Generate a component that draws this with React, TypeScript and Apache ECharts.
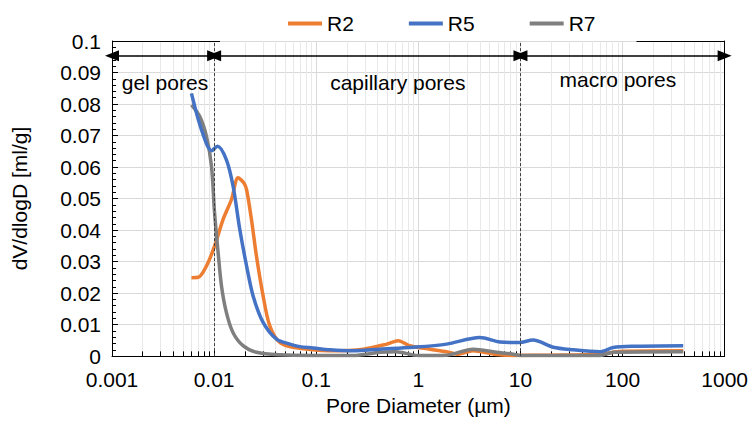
import React, { useEffect, useRef } from "react";
import * as echarts from "echarts";

const xTickLabels = ["0.001", "0.01", "0.1", "1", "10", "100", "1000"];
const yTickLabels = ["0", "0.01", "0.02", "0.03", "0.04", "0.05", "0.06", "0.07", "0.08", "0.09", "0.1"];

const r2X = [0.006, 0.007, 0.00842, 0.0101, 0.01225, 0.0148, 0.01718, 0.0195, 0.0208, 0.0232, 0.026, 0.0302, 0.0351, 0.044, 0.0593, 0.136, 0.29, 0.49, 0.635, 0.82, 1.3, 1.89, 2.4, 3.44, 5.5, 8.5, 20, 60, 100, 393];
const r2Y = [0.0249, 0.025, 0.0286, 0.0349, 0.0434, 0.0497, 0.0566, 0.055, 0.0528, 0.0434, 0.0317, 0.0191, 0.0096, 0.0043, 0.0028, 0.0017, 0.0022, 0.0038, 0.0049, 0.0033, 0.0022, 0.0014, 0.0006, 0.0017, 0.0006, 0.0002, 0.0003, 0.0006, 0.0015, 0.0017];

const r5X = [0.006, 0.00753, 0.00943, 0.0108, 0.0132, 0.01535, 0.01785, 0.0208, 0.0241, 0.0302, 0.0408, 0.0551, 0.069, 0.0933, 0.136, 0.23, 0.42, 0.89, 1.89, 4.0, 6.3, 9.8, 13.3, 20.9, 32.8, 60, 81, 127, 393];
const r5Y = [0.0834, 0.0718, 0.0652, 0.0666, 0.0623, 0.0539, 0.0402, 0.0286, 0.0191, 0.0107, 0.0054, 0.0038, 0.003, 0.0026, 0.002, 0.0017, 0.0022, 0.0028, 0.0038, 0.0059, 0.0045, 0.0043, 0.0051, 0.0028, 0.002, 0.0014, 0.0027, 0.0031, 0.0033];

const r7X = [0.006, 0.00724, 0.00842, 0.00943, 0.0101, 0.01095, 0.01182, 0.0132, 0.0153, 0.0192, 0.026, 0.044, 0.093, 0.23, 0.42, 0.6, 1.0, 1.89, 3.44, 5.8, 8.5, 10, 60, 81, 393];
const r7Y = [0.0797, 0.076, 0.0697, 0.0602, 0.0455, 0.0328, 0.0222, 0.0138, 0.0075, 0.0033, 0.0012, 0.0004, 0.0002, 0.0002, 0.0012, 0.0014, 0.0002, 0.0003, 0.0022, 0.0012, 0.0006, 0.0002, 0.0002, 0.0012, 0.0014];

const boundaries = [0.01, 10];
const regionStarts = [0.001, 0.01, 10];
const regionEnds = [0.01, 10, 1000];
const arrowLevel = 0.0953;
const regionNames = ["gel pores", "capillary pores", "macro pores"];
const regionLabelX = [0.0033, 0.63, 90];
const regionLabelY = [0.0867, 0.0867, 0.0877];

const decadeStarts = [0.001, 0.01, 0.1, 1, 10, 100];
const minorMultipliers = [2, 3, 4, 5, 6, 7, 8, 9];

const FONT = "'Liberation Sans', Arial, sans-serif";
const FS = 21;

function zip(xs: number[], ys: number[]) {
  return xs.map((x, i) => [x, ys[i]]);
}

export default function App() {
  const ref = useRef<HTMLDivElement>(null);
  useEffect(() => {
    document.body.style.margin = "0";
    if (!ref.current) return;
    const chart = echarts.init(ref.current, undefined, { renderer: "svg" });

    const minorVals: number[] = [];
    decadeStarts.forEach((d) => minorMultipliers.forEach((m) => minorVals.push(+(d * m).toPrecision(6))));

    const yMin = 0;
    const yMax = 0.1;

    const gridLines: any[] = minorVals.map((v) => [
      { coord: [v, yMin], lineStyle: { color: "#E8E8E8", width: 1, type: "solid" } },
      { coord: [v, yMax] },
    ]);
    const tickLines: any[] = minorVals.map((v) => [
      { coord: [v, yMin], lineStyle: { color: "#000", width: 1, type: "solid" } },
      { coord: [v, 0.0015] },
    ]);

    const decoLines: any[] = [];
    boundaries.forEach((b) => {
      decoLines.push([
        { coord: [b, yMin], lineStyle: { color: "#404040", width: 1, type: [3, 2] } },
        { coord: [b, yMax] },
      ]);
    });
    decoLines.push([
      { coord: [0.001, yMax], lineStyle: { color: "#000", width: 1, type: "solid" } },
      { coord: [0.0114, yMax] },
    ]);
    decoLines.push([
      { coord: [137, yMax], lineStyle: { color: "#000", width: 1, type: "solid" } },
      { coord: [1000, yMax] },
    ]);

    const arrowLines = regionStarts.map((s, i) => [
      { coord: [s, arrowLevel] },
      { coord: [regionEnds[i], arrowLevel] },
    ]);

    const labelPoints = regionNames.map((n, i) => ({
      name: n,
      coord: [regionLabelX[i], regionLabelY[i]],
    }));

    const lineSeries = (name: string, xs: number[], ys: number[], color: string, z: number) => ({
      name,
      type: "line",
      data: zip(xs, ys),
      smooth: 0.3,
      showSymbol: false,
      symbol: "none",
      lineStyle: { color, width: 3.5 },
      itemStyle: { color },
      z,
    });

    chart.setOption({
      animation: false,
      textStyle: { fontFamily: FONT },
      legend: {
        data: ["R2", "R5", "R7"],
        left: 283,
        top: 8,
        icon: "rect",
        itemWidth: 34,
        itemHeight: 4,
        itemGap: 55,
        textStyle: { fontSize: FS, color: "#000", fontFamily: FONT },
      },
      grid: { left: 112, right: 26, top: 41, bottom: 64 },
      xAxis: {
        type: "log",
        logBase: 10,
        min: 0.001,
        max: 1000,
        name: "Pore Diameter (µm)",
        nameLocation: "middle",
        nameGap: 37,
        nameTextStyle: { fontSize: FS, color: "#000", fontFamily: FONT },
        axisLine: { show: true, lineStyle: { color: "#000", width: 1 } },
        axisTick: { show: true, inside: true, length: 6, lineStyle: { color: "#000" } },
        axisLabel: {
          fontSize: FS,
          color: "#000",
          margin: 13,
          fontFamily: FONT,
          formatter: (v: number) => {
            const idx = Math.round(Math.log10(v)) + 3;
            return xTickLabels[idx] ?? String(v);
          },
        },
        splitLine: { show: true, lineStyle: { color: "#D9D9D9", width: 1 } },
      },
      yAxis: [
        {
          type: "value",
          min: yMin,
          max: yMax,
          interval: 0.01,
          name: "dV/dlogD [ml/g]",
          nameLocation: "middle",
          nameGap: 82,
          nameTextStyle: { fontSize: FS, color: "#000", fontFamily: FONT },
          axisLine: { show: true, lineStyle: { color: "#000", width: 1 } },
          axisTick: { show: true, inside: true, length: 6, lineStyle: { color: "#000" } },
          minorTick: { show: true, splitNumber: 5, length: 4, lineStyle: { color: "#000" } },
          axisLabel: {
            fontSize: FS,
            color: "#000",
            margin: 11,
            fontFamily: FONT,
            formatter: (v: number) => {
              const idx = Math.round(v * 100);
              return yTickLabels[idx] ?? String(v);
            },
          },
          splitLine: { show: true, lineStyle: { color: "#D9D9D9", width: 1 } },
        },
        {
          type: "value",
          position: "right",
          min: yMin,
          max: yMax,
          interval: 0.01,
          axisLine: { show: true, lineStyle: { color: "#000", width: 1 } },
          axisTick: { show: false },
          axisLabel: { show: false },
          splitLine: { show: false },
        },
      ],
      series: [
        {
          name: "_grid",
          type: "line",
          data: [],
          silent: true,
          z: 0,
          markLine: {
            silent: true,
            z: 0,
            symbol: "none",
            label: { show: false },
            data: gridLines,
          },
        },
        {
          name: "_ticks",
          type: "line",
          data: [],
          silent: true,
          z: 1,
          markLine: {
            silent: true,
            z: 1,
            symbol: "none",
            label: { show: false },
            data: tickLines,
          },
        },
        lineSeries("R2", r2X, r2Y, "#ED7D31", 3),
        lineSeries("R7", r7X, r7Y, "#7F7F7F", 4),
        lineSeries("R5", r5X, r5Y, "#4472C4", 5),
        {
          name: "_deco",
          type: "line",
          data: [],
          silent: true,
          z: 6,
          markLine: {
            silent: true,
            z: 6,
            symbol: "none",
            label: { show: false },
            data: decoLines,
          },
        },
        {
          name: "_arrows",
          type: "line",
          data: [],
          silent: true,
          z: 7,
          markLine: {
            silent: true,
            z: 7,
            symbol: ["triangle", "triangle"],
            symbolSize: [11, 14],
            label: { show: false },
            lineStyle: { color: "#000", width: 1.5, type: "solid" },
            data: arrowLines,
          },
          markPoint: {
            silent: true,
            z: 7,
            symbol: "circle",
            symbolSize: 1,
            itemStyle: { color: "rgba(0,0,0,0)" },
            label: {
              show: true,
              position: "inside",
              color: "#000",
              fontSize: FS,
              fontFamily: FONT,
              formatter: "{b}",
            },
            data: labelPoints,
          },
        },
      ],
    });
    return () => chart.dispose();
  }, []);
  return <div ref={ref} style={{ width: 751, height: 421 }} />;
}
